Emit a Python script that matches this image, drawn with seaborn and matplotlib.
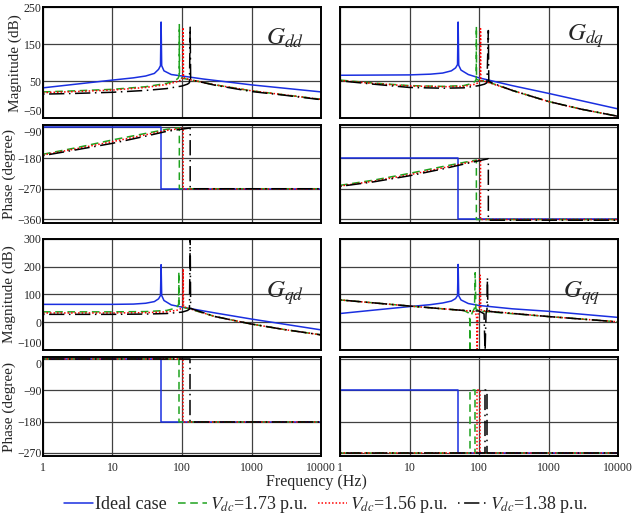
import matplotlib
matplotlib.use('Agg')
import matplotlib.pyplot as plt
import seaborn as sns

# ---- data (frequency in Hz, magnitude in dB, phase in degree) ----
series_labels = ['Ideal case', r'$V_{dc}$=1.73 p.u.', r'$V_{dc}$=1.56 p.u.', r'$V_{dc}$=1.38 p.u.']

# G_dd magnitude
gdd_mag_f_ideal = [1, 3, 10, 20, 30, 40, 46, 49, 50, 51, 55, 70, 100, 200, 1000, 10000]
gdd_mag_ideal = [32, 42, 53, 59, 64, 71, 82, 92, 210, 92, 78, 68, 64, 56, 40, 21]
gdd_mag_f_173 = [1, 3, 10, 30, 60, 80, 88, 91, 91.5, 92, 100, 130, 300, 1000, 3000, 10000]
gdd_mag_173 = [21, 24, 28, 35, 44, 52, 58, 65, 203, 62, 58, 54, 40, 24, 13, 1]
gdd_mag_f_156 = [1, 3, 10, 30, 60, 90, 100, 103, 104, 105, 115, 130, 300, 1000, 3000, 10000]
gdd_mag_156 = [19, 22, 26, 33, 41, 50, 55, 60, 195, 60, 57, 54, 40, 24, 13, 1]
gdd_mag_f_138 = [1, 3, 10, 30, 60, 100, 120, 128, 131, 133, 140, 300, 1000, 3000, 10000]
gdd_mag_138 = [15, 17, 20, 25, 30, 37, 42, 46, 196, 56, 53, 39, 22, 12, 0]

# G_dd phase
gdd_ph_f_ideal = [1, 50, 50, 10000]
gdd_ph_ideal = [-90, -90, -270, -270]
gdd_ph_f_173 = [1, 3, 10, 30, 60, 91.5, 91.5, 10000]
gdd_ph_173 = [-169, -150, -127, -108, -96, -92, -270, -270]
gdd_ph_f_156 = [1, 3, 10, 30, 60, 104, 104, 10000]
gdd_ph_156 = [-171, -153, -132, -112, -99, -93, -271, -271]
gdd_ph_f_138 = [1, 3, 10, 30, 60, 131, 131, 10000]
gdd_ph_138 = [-173, -156, -137, -116, -102, -92, -270, -270]

# G_dq magnitude
gdq_mag_f_ideal = [1, 10, 20, 30, 40, 46, 49, 50, 51, 55, 70, 100, 300, 1000, 10000]
gdq_mag_ideal = [66, 67, 69, 72, 78, 86, 95, 210, 93, 80, 68, 59, 38, 17, -25]
gdq_mag_f_173 = [1, 3, 10, 30, 60, 80, 88, 91, 91.5, 92, 100, 125, 300, 1000, 3000, 10000]
gdq_mag_173 = [53, 45, 38, 36, 38, 44, 50, 55, 198, 55, 52, 50, 25, -5, -26, -45]
gdq_mag_f_156 = [1, 3, 10, 30, 60, 90, 100, 104, 105, 106, 115, 125, 300, 1000, 3000, 10000]
gdq_mag_156 = [52, 44, 37, 35, 36, 42, 48, 53, 192, 52, 50, 49, 25, -5, -26, -45]
gdq_mag_f_138 = [1, 3, 10, 30, 60, 100, 120, 130, 136, 138, 150, 300, 1000, 3000, 10000]
gdq_mag_138 = [51, 42, 33, 31, 32, 38, 42, 46, 187, 50, 46, 25, -5, -26, -45]

# G_dq phase
gdq_ph_f_ideal = [1, 50, 50, 10000]
gdq_ph_ideal = [-180, -180, -360, -360]
gdq_ph_f_173 = [1, 3, 10, 30, 60, 91.5, 91.5, 10000]
gdq_ph_173 = [-260, -245, -225, -205, -193, -186, -360, -360]
gdq_ph_f_156 = [1, 3, 10, 30, 60, 105, 105, 10000]
gdq_ph_156 = [-262, -248, -229, -209, -196, -185, -360, -360]
gdq_ph_f_138 = [1, 3, 10, 30, 60, 136, 136, 10000]
gdq_ph_138 = [-263, -250, -232, -212, -198, -182, -362, -362]

# G_qd magnitude
gqd_mag_f_ideal = [1, 10, 20, 30, 40, 46, 49, 50, 51, 55, 70, 100, 300, 1000, 10000]
gqd_mag_ideal = [64, 64, 65, 68, 74, 84, 96, 207, 96, 78, 62, 54, 33, 11, -28]
gqd_mag_f_173 = [1, 10, 30, 60, 80, 87, 89.5, 90, 90.5, 95, 110, 130, 300, 1000, 3000, 10000]
gqd_mag_173 = [37, 37, 38, 42, 50, 58, 66, 181, 65, 58, 52, 47, 20, -7, -27, -46]
gqd_mag_f_156 = [1, 10, 30, 60, 90, 100, 103, 104, 105, 115, 130, 300, 1000, 3000, 10000]
gqd_mag_156 = [33, 33, 34, 37, 44, 52, 60, 192, 58, 52, 48, 20, -7, -27, -46]
gqd_mag_f_138 = [1, 10, 30, 60, 100, 120, 128, 131, 133, 145, 300, 1000, 3000, 10000]
gqd_mag_138 = [28, 28, 29, 31, 36, 42, 47, 310, 50, 46, 20, -7, -27, -46]

# G_qd phase
gqd_ph_f_ideal = [1, 50, 50, 10000]
gqd_ph_ideal = [0, 0, -180, -180]
gqd_ph_f_173 = [1, 90, 90, 10000]
gqd_ph_173 = [0, 0, -180, -180]
gqd_ph_f_156 = [1, 104, 104, 10000]
gqd_ph_156 = [0, 0, -180, -180]
gqd_ph_f_138 = [1, 131, 131, 10000]
gqd_ph_138 = [0, 0, -180, -180]

# G_qq magnitude
gqq_mag_f_ideal = [1, 3, 10, 20, 30, 40, 46, 49, 50, 51, 55, 70, 100, 300, 1000, 10000]
gqq_mag_ideal = [31, 43, 56, 63, 69, 76, 85, 96, 208, 95, 80, 67, 60, 48, 39, 17]
gqq_mag_f_173 = [1, 10, 30, 60, 70, 73.5, 74, 74.5, 80, 86, 88, 90, 95, 100, 1000, 10000]
gqq_mag_173 = [80, 58, 48, 42, 34, 10, -110, 10, 35, 50, 178, 48, 44, 40, 20, 1]
gqq_mag_f_156 = [1, 10, 30, 60, 85, 92, 94, 96, 101, 104, 106, 115, 1000, 10000]
gqq_mag_156 = [80, 58, 48, 42, 38, 25, -110, 25, 45, 169, 45, 41, 20, 1]
gqq_mag_f_138 = [1, 10, 30, 60, 100, 118, 122, 126, 130, 132, 134, 145, 1000, 10000]
gqq_mag_138 = [80, 58, 48, 42, 40, 30, -110, 30, 45, 160, 45, 38, 20, 1]

# G_qq phase
gqq_ph_f_ideal = [1, 50, 50, 10000]
gqq_ph_ideal = [-90, -90, -270, -270]
gqq_ph_f_173 = [1, 74, 74, 88, 88, 10000]
gqq_ph_173 = [-270, -270, -90, -90, -270, -270]
gqq_ph_f_156 = [1, 94, 94, 104, 104, 10000]
gqq_ph_156 = [-270, -270, -90, -90, -270, -270]
gqq_ph_f_138 = [1, 122, 122, 132, 132, 10000]
gqq_ph_138 = [-270, -270, -90, -90, -270, -270]

colors = ['#1a2fe0', '#1fa31f', '#ff0000', '#000000']
styles = ['-', (0, (5, 3)), (0, (1, 1.3)), (0, (1, 3, 10, 3))]

sns.set_theme(style="white")
plt.rcParams['font.family'] = ['Liberation Serif', 'DejaVu Serif']
plt.rcParams['mathtext.fontset'] = 'stix'

fig = plt.figure(figsize=(6.32, 5.16), dpi=100)

x_left = [0.068, 0.538]
width = 0.44
rows = [(0.771, 0.215), (0.568, 0.190), (0.322, 0.215), (0.116, 0.192)]


def draw(ax, fs, ys, ylim, yticks, show_y, show_x, kind):
    for f, y, c, s, lab in zip(fs, ys, colors, styles, series_labels):
        sns.lineplot(x=f, y=y, ax=ax, color=c, linestyle=s, linewidth=1.1,
                     estimator=None, sort=False, legend=False, label=lab)
    ax.set_xscale('log')
    ax.set_xlim(1, 10000)
    ax.set_ylim(*ylim)
    ax.set_yticks(yticks)
    ax.set_xticks([1, 10, 100, 1000, 10000])
    ax.minorticks_off()
    ax.grid(True, color='0.25', linewidth=0.9)
    ax.tick_params(axis='y', length=0, pad=1, labelsize=8.5)
    ax.tick_params(axis='x', length=0, pad=4, labelsize=8.5)
    for sp in ax.spines.values():
        sp.set_color('black')
        sp.set_linewidth(1.4)
    if show_x:
        ax.set_xticklabels(['1', '10', '100', '1000', '10000'])
    else:
        ax.set_xticklabels([])
    if not show_y:
        ax.set_yticklabels([])
    else:
        labs = ax.get_yticklabels()
        # keep the edge labels of stacked panels apart
        if kind == 'mag':
            labs[0].set_verticalalignment('bottom')
        else:
            labs[0].set_verticalalignment('top')


mag_top = ((-50, 250), [-50, 50, 150, 250])
mag_bot = ((-100, 300), [-100, 0, 100, 200, 300])

# top-left: G_dd
ax = fig.add_axes([x_left[0], rows[0][0], width, rows[0][1]])
draw(ax, [gdd_mag_f_ideal, gdd_mag_f_173, gdd_mag_f_156, gdd_mag_f_138],
     [gdd_mag_ideal, gdd_mag_173, gdd_mag_156, gdd_mag_138], *mag_top, True, False, 'mag')
ax.set_ylabel('Magnitude (dB)', fontsize=11, labelpad=1)
ax.text(0.87, 0.72, r'$G_{dd}$', transform=ax.transAxes, fontsize=18, ha='center', va='center')
legend_ax = ax

ax = fig.add_axes([x_left[0], rows[1][0], width, rows[1][1]])
draw(ax, [gdd_ph_f_ideal, gdd_ph_f_173, gdd_ph_f_156, gdd_ph_f_138],
     [gdd_ph_ideal, gdd_ph_173, gdd_ph_156, gdd_ph_138], (-370, -83), [-90, -180, -270, -360], True, False, 'ph')
ax.set_ylabel('Phase (degree)', fontsize=11, labelpad=1)

# top-right: G_dq
ax = fig.add_axes([x_left[1], rows[0][0], width, rows[0][1]])
draw(ax, [gdq_mag_f_ideal, gdq_mag_f_173, gdq_mag_f_156, gdq_mag_f_138],
     [gdq_mag_ideal, gdq_mag_173, gdq_mag_156, gdq_mag_138], *mag_top, False, False, 'mag')
ax.text(0.885, 0.74, r'$G_{dq}$', transform=ax.transAxes, fontsize=18, ha='center', va='center')

ax = fig.add_axes([x_left[1], rows[1][0], width, rows[1][1]])
draw(ax, [gdq_ph_f_ideal, gdq_ph_f_173, gdq_ph_f_156, gdq_ph_f_138],
     [gdq_ph_ideal, gdq_ph_173, gdq_ph_156, gdq_ph_138], (-370, -83), [-90, -180, -270, -360], False, False, 'ph')

# bottom-left: G_qd
ax = fig.add_axes([x_left[0], rows[2][0], width, rows[2][1]])
draw(ax, [gqd_mag_f_ideal, gqd_mag_f_173, gqd_mag_f_156, gqd_mag_f_138],
     [gqd_mag_ideal, gqd_mag_173, gqd_mag_156, gqd_mag_138], *mag_bot, True, False, 'mag')
ax.set_ylabel('Magnitude (dB)', fontsize=11, labelpad=1)
ax.text(0.87, 0.51, r'$G_{qd}$', transform=ax.transAxes, fontsize=18, ha='center', va='center')

ax = fig.add_axes([x_left[0], rows[3][0], width, rows[3][1]])
draw(ax, [gqd_ph_f_ideal, gqd_ph_f_173, gqd_ph_f_156, gqd_ph_f_138],
     [gqd_ph_ideal, gqd_ph_173, gqd_ph_156, gqd_ph_138], (-280, 6), [0, -90, -180, -270], True, True, 'ph')
ax.set_ylabel('Phase (degree)', fontsize=11, labelpad=1)

# bottom-right: G_qq
ax = fig.add_axes([x_left[1], rows[2][0], width, rows[2][1]])
draw(ax, [gqq_mag_f_ideal, gqq_mag_f_173, gqq_mag_f_156, gqq_mag_f_138],
     [gqq_mag_ideal, gqq_mag_173, gqq_mag_156, gqq_mag_138], *mag_bot, False, False, 'mag')
ax.text(0.87, 0.51, r'$G_{qq}$', transform=ax.transAxes, fontsize=18, ha='center', va='center')

ax = fig.add_axes([x_left[1], rows[3][0], width, rows[3][1]])
draw(ax, [gqq_ph_f_ideal, gqq_ph_f_173, gqq_ph_f_156, gqq_ph_f_138],
     [gqq_ph_ideal, gqq_ph_173, gqq_ph_156, gqq_ph_138], (-280, 6), [0, -90, -180, -270], False, True, 'ph')

fig.text(0.5, 0.066, 'Frequency (Hz)', ha='center', va='center', fontsize=11.5)

handles, labels = legend_ax.get_legend_handles_labels()
fig.legend(handles, labels, loc='lower center', bbox_to_anchor=(0.515, -0.03), ncol=4,
           frameon=False, fontsize=13, handlelength=1.6, handletextpad=0.15, columnspacing=0.6)

fig.savefig('out.png', dpi=100)
